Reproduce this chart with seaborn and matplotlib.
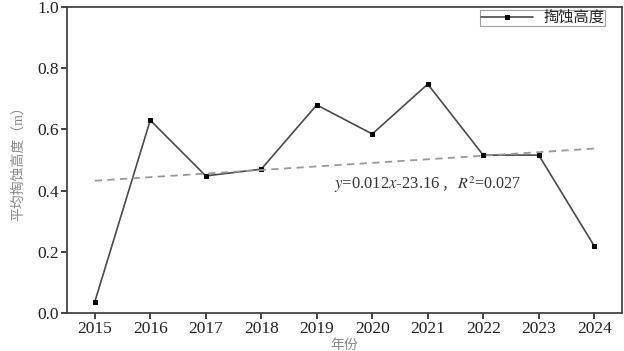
import numpy as np
import pandas as pd
import matplotlib
matplotlib.use("Agg")
import matplotlib.pyplot as plt
import seaborn as sns

years = [2015, 2016, 2017, 2018, 2019, 2020, 2021, 2022, 2023, 2024]
heights = [0.036, 0.63, 0.448, 0.47, 0.68, 0.585, 0.748, 0.516, 0.516, 0.219]
series_name = "掏蚀高度"
xlabel = "年份"
ylabel = "平均掏蚀高度（m）"
eq_left = r"$y$=0.012$x$-23.16"
eq_sep = "，"
eq_right = r"$R^2$=0.027"

sns.set_theme(style="ticks")
plt.rcParams['font.family'] = ['Liberation Serif', 'Noto Sans CJK SC', 'DejaVu Sans']
plt.rcParams['mathtext.fontset'] = 'stix'

df = pd.DataFrame({"year": years, "h": heights})

fig = plt.figure(figsize=(6.24, 3.51), dpi=100)
ax = fig.add_axes([67/624, 1 - 313/351, (622-67)/624, (313-7)/351])

sns.lineplot(data=df, x="year", y="h", ax=ax, color="#4a4a4a", linewidth=1.2,
             marker="s", markersize=3.5, markerfacecolor="black", markeredgecolor="black",
             label=series_name)

coef = np.polyfit(years, heights, 1)
fit = np.polyval(coef, years)
sns.lineplot(x=years, y=fit, ax=ax, color="#999999", linewidth=1.3,
             linestyle=(0, (4, 3)), legend=False)

ax.set_xlim(2014.5, 2024.5)
ax.set_ylim(0, 1.0)
ax.set_xticks(years)
ax.set_yticks([0, 0.2, 0.4, 0.6, 0.8, 1.0])
ax.set_yticklabels(["0.0", "0.2", "0.4", "0.6", "0.8", "1.0"])
ax.tick_params(direction="out", length=4, width=1.2, labelsize=12.5, colors="#222222", pad=2)
for s in ax.spines.values():
    s.set_visible(True)
    s.set_color("#444444")
    s.set_linewidth(1.3)

ax.set_xlabel(xlabel, fontsize=10, color="#888888", labelpad=1)
ax.set_ylabel(ylabel, fontsize=10, color="#888888", labelpad=9)

ty = 0.42
ax.text(0.672, ty, eq_left, transform=ax.transAxes, fontsize=12, color="#333333",
        ha="right", va="center")
ax.text(0.674, ty, eq_sep, transform=ax.transAxes, fontsize=10, color="#333333",
        ha="left", va="center")
ax.text(0.703, ty, eq_right, transform=ax.transAxes, fontsize=11.5, color="#333333",
        ha="left", va="center")

leg = ax.legend(loc="upper right", frameon=True, fancybox=False, fontsize=11,
                borderpad=0.05, handlelength=3.4, handletextpad=0.7,
                borderaxespad=0.2, bbox_to_anchor=(0.975, 1.0))
leg.get_frame().set_edgecolor("#888888")
leg.get_frame().set_linewidth(0.8)

fig.savefig("out.png", dpi=100)
